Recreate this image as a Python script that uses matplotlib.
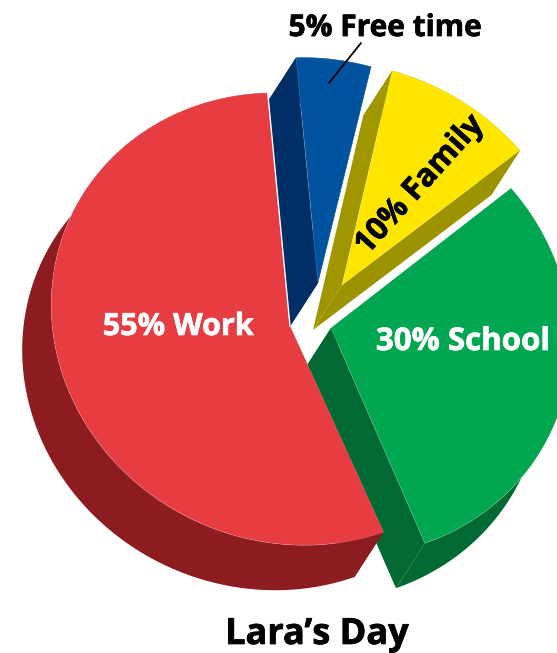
import numpy as np
import matplotlib
matplotlib.use("Agg")
import matplotlib.pyplot as plt
from matplotlib.patches import Polygon
import matplotlib.patheffects as pe

# Slice data, clockwise from the small "Free time" slice
slice_names = ["Free time", "Family", "School", "Work"]
shares = [5, 10, 30, 55]
title = "Lara\u2019s Day"

top_colors = ["#00539f", "#ffe600", "#00a650", "#e73c42"]
rim_colors = ["#002e67", "#9c9300", "#006a32", "#8c1c20"]
side_a_colors = ["#002e67", "#a09700", "#006a32", "#8c1c20"]
side_b_colors = ["#002e67", "#9c9300", "#006a32", "#8c1c20"]

# Layout in pixel units: ellipse centre, wedge tip and size of every exploded slice
centres = [(318, 286), (339, 290), (330, 328), (289.5, 319)]
tips = [(318, 283), (342, 285), (331, 328), (290, 326)]
scales = [1.0, 1.0, 1.0, 0.99]
start_angle = -118.5
semi_major, semi_minor = 244, 225
tilt = np.radians(25)
depth = np.array([-29, 45])

fig = plt.figure(figsize=(5.57, 6.53), dpi=100)
ax = fig.add_axes([0, 0, 1, 1])
ax.set_xlim(0, 557)
ax.set_ylim(653, 0)
ax.axis("off")


def arc_points(centre, scale, a0, a1):
    t = np.radians(np.linspace(a0, a1, 160))
    u, v = scale * semi_major * np.cos(t), scale * semi_minor * np.sin(t)
    x = u * np.cos(tilt) - v * np.sin(tilt)
    y = u * np.sin(tilt) + v * np.cos(tilt)
    return np.column_stack([x + centre[0], y + centre[1]])


edges = start_angle + 360 * np.concatenate([[0], np.cumsum(shares)]) / sum(shares)

for i in range(len(shares)):
    arc = arc_points(centres[i], scales[i], edges[i], edges[i + 1])
    tip = np.array(tips[i], dtype=float)

    # extruded body: outer rim first, then both cut faces, then the top
    rim = np.vstack([arc, (arc + depth)[::-1]])
    ax.add_patch(Polygon(rim, closed=True, fc=rim_colors[i], ec="none", zorder=i * 4 + 1))
    side_a = np.array([tip, arc[0], arc[0] + depth, tip + depth])
    side_b = np.array([tip, arc[-1], arc[-1] + depth, tip + depth])
    ax.add_patch(Polygon(side_a, closed=True, fc=side_a_colors[i], ec="none", zorder=i * 4 + 2))
    ax.add_patch(Polygon(side_b, closed=True, fc=side_b_colors[i], ec="none", zorder=i * 4 + 2))
    ax.add_patch(Polygon(np.vstack([tip, arc]), closed=True, fc=top_colors[i],
                         ec=(1, 1, 1, 0.22), lw=0.5, zorder=i * 4 + 3))

# bright seam along the upper cut of the largest slice
work_arc = arc_points(centres[3], scales[3], edges[3], edges[4])
ax.plot([tips[3][0], work_arc[-1][0]], [tips[3][1], work_arc[-1][1]],
        color="white", lw=1.0, zorder=20)


def label(x, y, text, color, size, **kwargs):
    # a hairline stroke in the text colour gives the heavier letterforms
    t = ax.text(x, y, text, color=color, fontsize=size, family="Open Sans", fontweight="bold",
                ha="center", va="center", zorder=30, **kwargs)
    t.set_path_effects([pe.withStroke(linewidth=0.5, foreground=color)])


label(385, 28, f"{shares[0]}% {slice_names[0]}", "black", 21.5)
label(420, 185, f"{shares[1]}% {slice_names[1]}", "black", 22.5,
      rotation=48, rotation_mode="anchor")
label(463, 342, f"{shares[2]}% {slice_names[2]}", "white", 22.5)
label(178, 327, f"{shares[3]}% {slice_names[3]}", "white", 22)
label(317, 635, title, "black", 26)

# leader from the label down into its slice
ax.annotate("", xy=(329, 83), xytext=(361, 43), zorder=30,
            arrowprops=dict(arrowstyle="-", color="black", lw=1.3, shrinkA=0, shrinkB=0))

fig.savefig("out.png", dpi=100, facecolor="white")
